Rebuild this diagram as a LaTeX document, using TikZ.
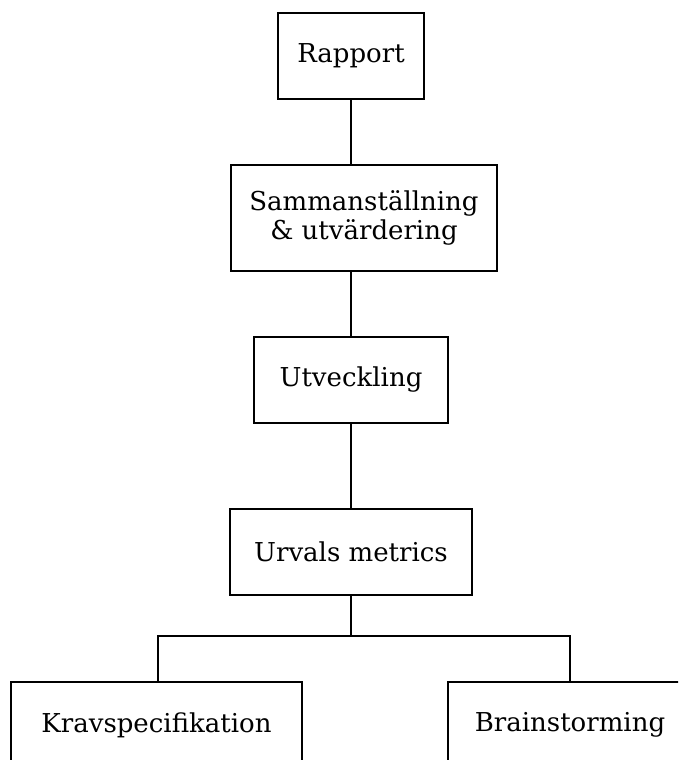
\documentclass[tikz,border=0pt]{standalone}
\usepackage{fontspec}
\setmainfont{DejaVu Serif}
\usepackage{tikz}
\usetikzlibrary{positioning}

\begin{document}
\begin{tikzpicture}[x=1pt, y=-1pt, line width=1.3pt,
  box/.style={rectangle, draw=black, text centered, align=center, inner sep=0pt,
    font=\fontsize{26}{29}\selectfont}]

\useasboundingbox (0,0) rectangle (678,760);
\clip (0,0) rectangle (678,760);

% Nodes
\node (rapport) [box, minimum width=146pt, minimum height=86pt] at (351,56) {Rapport};

\node (samman) [box, minimum width=266pt, minimum height=106pt] at (364,218) {Sammanställning\\\& utvärdering};

\node (utv) [box, minimum width=194pt, minimum height=86pt] at (351,380) {Utveckling};

\node (urval) [box, minimum width=242pt, minimum height=86pt] at (351,552) {Urvals metrics};

\node (krav) [box, minimum width=291pt, minimum height=86pt] at (156.5,725) {Kravspecifikation};

\node (brain) [box, minimum width=244pt, minimum height=86pt] at (570,725) {Brainstorming};

\coordinate (split) at (351,636);

% Lines
\draw (rapport.south) -- (rapport.south |- samman.north);
\draw (rapport.south |- samman.south) -- (utv.north);
\draw (utv.south) -- (urval.north);
\draw (urval.south) -- (split);
\draw (split) -| (krav.north -| 158,0);
\draw (split) -| (brain.north);

\end{tikzpicture}
\end{document}
